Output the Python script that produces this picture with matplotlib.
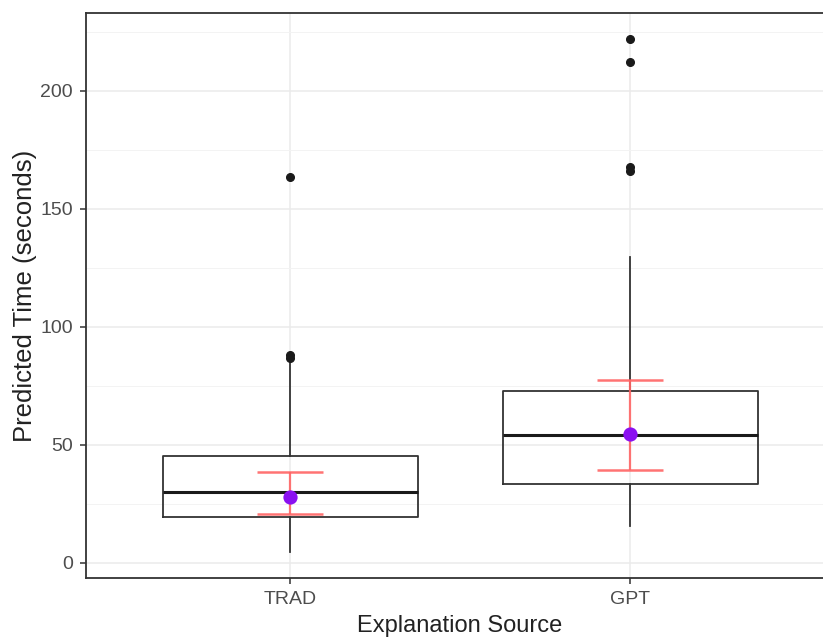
import matplotlib.pyplot as plt
from matplotlib.ticker import MultipleLocator

plt.rcParams["font.family"] = ["Liberation Sans", "DejaVu Sans"]

# groups and summary values
groups = ["TRAD", "GPT"]
box_low = [19.5, 33.4]
box_med = [30.2, 54.3]
box_high = [45.2, 72.6]
whisker_low = [4.5, 15.5]
whisker_high = [84.5, 129.4]
outliers = [[86.8, 88.0, 163.6], [165.8, 167.6, 212.3, 222.1]]
means = [28.0, 54.6]
ci_low = [20.8, 39.5]
ci_high = [38.3, 77.3]


def main() -> None:
    fig = plt.figure(figsize=(8.23, 6.39), dpi=100)
    # the panel runs past the right edge of the picture, as in the reference
    ax = fig.add_axes([0.1045, 0.0955, 0.909, 0.8845])

    stats = []
    for i, name in enumerate(groups):
        stats.append({
            "label": name,
            "q1": box_low[i], "med": box_med[i], "q3": box_high[i],
            "whislo": whisker_low[i], "whishi": whisker_high[i],
            "fliers": outliers[i],
        })
    pos = list(range(1, len(groups) + 1))
    ax.bxp(
        stats, positions=pos, widths=0.75, showcaps=False, zorder=3,
        boxprops=dict(color="#333333", linewidth=1.3),
        whiskerprops=dict(color="#333333", linewidth=1.3),
        medianprops=dict(color="#1a1a1a", linewidth=2.2),
        flierprops=dict(marker="o", markerfacecolor="#1a1a1a",
                        markeredgecolor="#1a1a1a", markersize=5.5),
    )

    err_lo = [m - l for m, l in zip(means, ci_low)]
    err_hi = [h - m for m, h in zip(means, ci_high)]
    ax.errorbar(pos, means, yerr=[err_lo, err_hi], fmt="none",
                ecolor="#ff6464", elinewidth=1.6, capsize=24,
                capthick=1.8, alpha=0.9, zorder=4)
    ax.scatter(pos, means, s=105, color="#8a10f0", zorder=5, linewidths=0)

    ax.set_xlim(0.4, 2.6)
    ax.set_ylim(-6.4, 233)
    ax.yaxis.set_major_locator(MultipleLocator(50))
    ax.yaxis.set_minor_locator(MultipleLocator(25))
    ax.set_xticks(pos)
    ax.set_xticklabels(groups)

    ax.grid(True, which="major", color="#ebebeb", linewidth=1.1, zorder=0)
    ax.grid(True, which="minor", axis="y", color="#f3f3f3", linewidth=0.7, zorder=0)
    ax.set_axisbelow(True)
    for s in ax.spines.values():
        s.set_color("#333333")
        s.set_linewidth(1.3)

    ax.tick_params(axis="both", which="major", length=4.5, width=1.1,
                   color="#333333", labelcolor="#4d4d4d", labelsize=14, pad=5)
    ax.tick_params(axis="y", which="minor", length=0)
    ax.set_ylabel("Predicted Time (seconds)", fontsize=18.5, color="#222222", labelpad=2)
    ax.set_xlabel("Explanation Source", fontsize=17, color="#222222", labelpad=5)

    fig.savefig("out.png", dpi=100)
    plt.close(fig)


if __name__ == "__main__":
    main()
